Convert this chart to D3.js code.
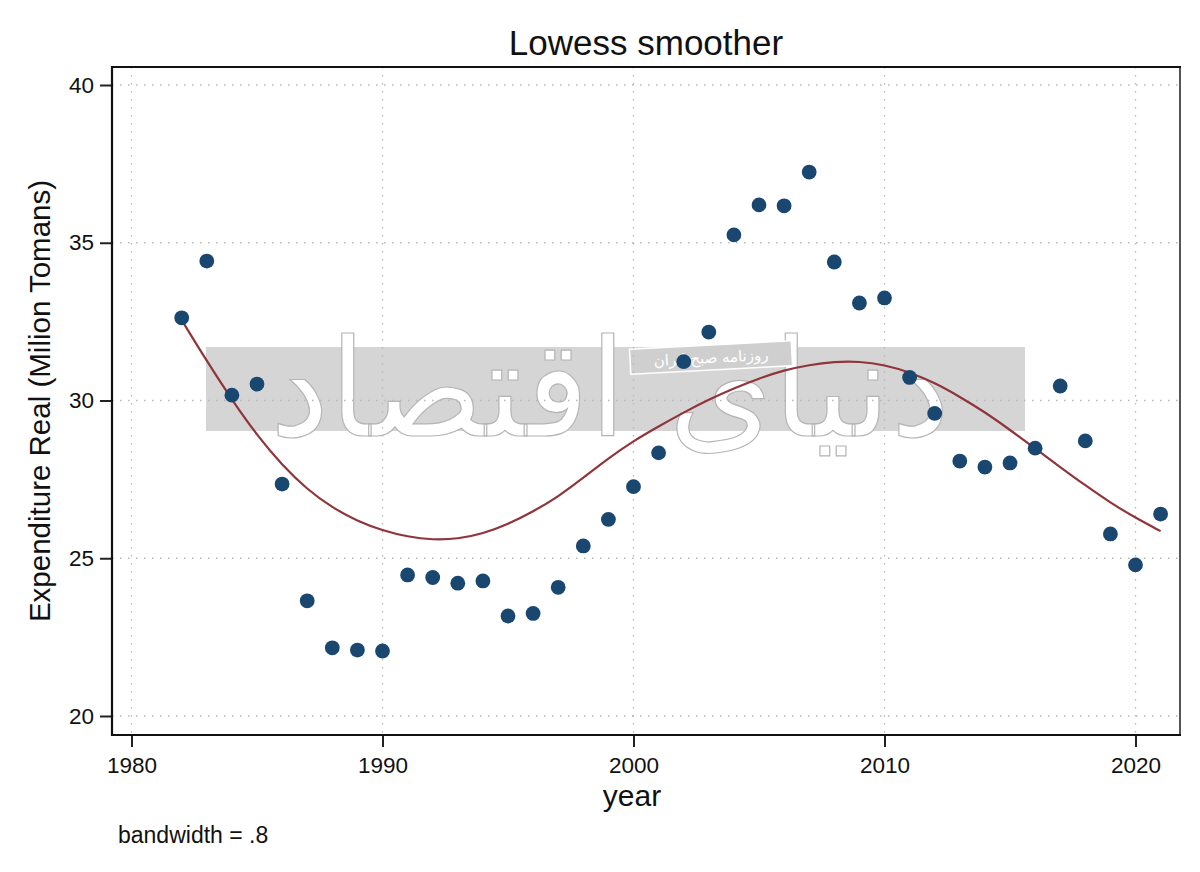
<!DOCTYPE html>
<html>
<head>
<meta charset="utf-8">
<script src="https://cdn.jsdelivr.net/npm/d3@7"></script>
<style>
  html, body { margin: 0; padding: 0; background: #fff; }
  svg { display: block; font-family: "Liberation Sans", Arial, sans-serif; }
</style>
</head>
<body>
<svg id="chart" width="1200" height="872"></svg>
<script>
const years = [1982,1983,1984,1985,1986,1987,1988,1989,1990,1991,1992,1993,1994,1995,1996,1997,1998,1999,2000,2001,2002,2003,2004,2005,2006,2007,2008,2009,2010,2011,2012,2013,2014,2015,2016,2017,2018,2019,2020,2021];
const expenditure = [32.62,34.42,30.17,30.52,27.35,23.65,22.16,22.09,22.06,24.47,24.39,24.21,24.28,23.17,23.25,24.08,25.39,26.23,27.27,28.34,31.23,32.17,35.25,36.20,36.17,37.24,34.39,33.09,33.25,30.73,29.59,28.08,27.89,28.02,28.49,30.46,28.72,25.77,24.79,26.40];
const lowess = [32.55,31.25,30.02,28.90,27.95,27.18,26.60,26.18,25.88,25.68,25.58,25.61,25.78,26.08,26.48,26.95,27.55,28.17,28.72,29.18,29.62,30.03,30.39,30.70,30.96,31.13,31.23,31.24,31.13,30.90,30.56,30.12,29.63,29.07,28.48,27.89,27.31,26.76,26.28,25.86];
const xTicks = [1980,1990,2000,2010,2020];
const yTicks = [20,25,30,35,40];
const titleText = "Lowess smoother";
const xTitle = "year";
const yTitle = "Expenditure Real (Milion Tomans)";
const noteText = "bandwidth = .8";
const watermarkText = "دنیای اقتصاد";
const watermarkSub = "روزنامه صبح ایران";

const svg = d3.select("#chart");
const frame = {left: 112, top: 67, right: 1180, bottom: 735};

const x = d3.scaleLinear().domain([1980, 2020]).range([131.5, 1135.5]);
const y = d3.scaleLinear().domain([20, 40]).range([716, 85]);

// watermark band (beneath the marks)
const wm = svg.append("g");
wm.append("rect").attr("x", 206).attr("y", 347).attr("width", 819).attr("height", 84).attr("fill", "#d5d5d5");
wm.append("text")
  .attr("x", 610).attr("y", 436)
  .attr("text-anchor", "middle")
  .attr("font-family", "DejaVu Sans, Noto Sans, sans-serif")
  .attr("font-size", 135)
  .attr("textLength", 680).attr("lengthAdjust", "spacingAndGlyphs")
  .attr("fill", "#ffffff").attr("stroke", "#b5b5b5").attr("stroke-width", 1.2)
  .attr("direction", "rtl")
  .text(watermarkText);
const sub = wm.append("g").attr("transform", "translate(711,357) rotate(-3)");
sub.append("rect").attr("x", -81).attr("y", -12).attr("width", 162).attr("height", 25)
  .attr("fill", "#cfcfcf").attr("stroke", "#ffffff").attr("stroke-width", 1.5);
sub.append("text").attr("x", 0).attr("y", 6).attr("text-anchor", "middle")
  .attr("font-family", "DejaVu Sans, sans-serif").attr("font-size", 15)
  .attr("fill", "#ffffff").attr("direction", "rtl").text(watermarkSub);

// grid
const grid = svg.append("g").attr("stroke", "#b8b8b8").attr("stroke-width", 1.3).attr("stroke-dasharray", "1.5,6.5");
grid.selectAll("line.h").data(yTicks).join("line").attr("class", "h")
  .attr("x1", frame.left).attr("x2", frame.right)
  .attr("y1", d => y(d)).attr("y2", d => y(d));
grid.selectAll("line.v").data(xTicks).join("line").attr("class", "v")
  .attr("y1", frame.top).attr("y2", frame.bottom)
  .attr("x1", d => x(d)).attr("x2", d => x(d));

// frame
svg.append("rect").attr("x", frame.left).attr("y", frame.top)
  .attr("width", frame.right - frame.left).attr("height", frame.bottom - frame.top)
  .attr("fill", "none").attr("stroke", "#555").attr("stroke-width", 2);

// lowess line
const line = d3.line().x((d, i) => x(years[i])).y(d => y(d)).curve(d3.curveBasis);
svg.append("path").datum(lowess).attr("d", line)
  .attr("fill", "none").attr("stroke", "#90353b").attr("stroke-width", 2.2);

// points
svg.append("g").selectAll("circle").data(expenditure).join("circle")
  .attr("cx", (d, i) => x(years[i])).attr("cy", d => y(d)).attr("r", 7.4)
  .attr("fill", "#1a476f");

// axes
const yAxis = svg.append("g").attr("transform", `translate(${frame.left},0)`)
  .call(d3.axisLeft(y).tickValues(yTicks).tickSize(12).tickPadding(6).tickFormat(d3.format("d")));
const xAxis = svg.append("g").attr("transform", `translate(0,${frame.bottom})`)
  .call(d3.axisBottom(x).tickValues(xTicks).tickSize(12).tickPadding(10).tickFormat(d3.format("d")));
[yAxis, xAxis].forEach(a => {
  a.select(".domain").remove();
  a.selectAll(".tick line").attr("stroke", "#222").attr("stroke-width", 2);
  a.selectAll(".tick text").attr("fill", "#111").attr("font-size", 22.5)
    .attr("font-family", "Liberation Sans, Arial, sans-serif");
});
svg.append("line").attr("x1", frame.left).attr("x2", frame.left).attr("y1", frame.top - 1).attr("y2", frame.bottom + 1)
  .attr("stroke", "#111").attr("stroke-width", 2.2);
svg.append("line").attr("x1", frame.left - 1).attr("x2", frame.right + 1).attr("y1", frame.bottom).attr("y2", frame.bottom)
  .attr("stroke", "#111").attr("stroke-width", 2.2);
svg.append("line").attr("x1", frame.left - 1).attr("x2", frame.right + 1).attr("y1", frame.top).attr("y2", frame.top)
  .attr("stroke", "#111").attr("stroke-width", 2);

// titles
svg.append("text").attr("x", 646).attr("y", 55).attr("text-anchor", "middle")
  .attr("font-size", 35).attr("fill", "#111").text(titleText);
svg.append("text").attr("x", 632).attr("y", 806).attr("text-anchor", "middle")
  .attr("font-size", 30).attr("fill", "#111").text(xTitle);
svg.append("text").attr("transform", "translate(50,401) rotate(-90)").attr("text-anchor", "middle")
  .attr("font-size", 29.5).attr("fill", "#111").text(yTitle);
svg.append("text").attr("x", 118).attr("y", 843)
  .attr("font-size", 23).attr("fill", "#111").text(noteText);
</script>
</body>
</html>
